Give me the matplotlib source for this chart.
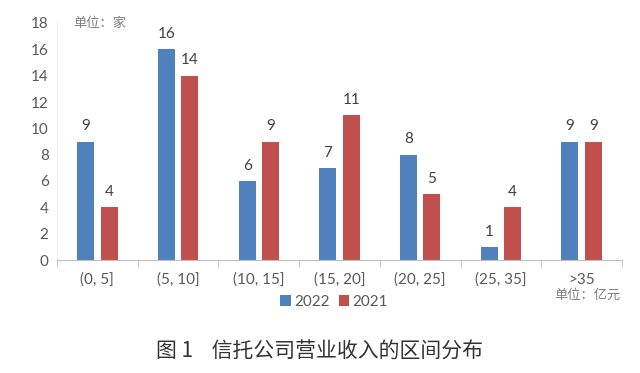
import matplotlib
matplotlib.use("Agg")
import matplotlib.pyplot as plt
import numpy as np

plt.rcParams['font.family'] = ['Lato', 'Noto Sans CJK SC', 'DejaVu Sans']

categories = ['(0, 5]', '(5, 10]', '(10, 15]', '(15, 20]', '(20, 25]', '(25, 35]', '>35']
v2022 = [9, 16, 6, 7, 8, 1, 9]
v2021 = [4, 14, 9, 11, 5, 4, 9]

blue = '#4F81BD'
red = '#C0504D'
txt = '#595959'

fig = plt.figure(figsize=(6.4, 3.73), dpi=100)
ax = fig.add_axes([57/640, 1 - 260/373, (622 - 57)/640, (260 - 23)/373])

x = np.arange(len(categories))
w = 0.21
off = 0.145
b1 = ax.bar(x - off, v2022, w, color=blue, label='2022')
b2 = ax.bar(x + off, v2021, w, color=red, label='2021')

for bars in (b1, b2):
    for r in bars:
        ax.annotate(str(int(r.get_height())), (r.get_x() + r.get_width()/2, r.get_height()),
                    xytext=(0, 11), textcoords='offset points', ha='center', va='center',
                    fontsize=11, color='#404040')

ax.set_xlim(-0.5, len(categories) - 0.5)
ax.set_ylim(0, 18)
ax.set_yticks(range(0, 19, 2))
ax.tick_params(axis='y', length=0, labelsize=11, labelcolor=txt, pad=6)
ax.set_xticks(x)
ax.set_xticklabels(categories)
ax.tick_params(axis='x', length=0, labelsize=11, labelcolor=txt, pad=9)
ax.set_xticks(np.arange(-0.5, len(categories), 1), minor=True)
ax.tick_params(axis='x', which='minor', length=5, color='#BFBFBF', direction='out')

for s in ['top', 'right']:
    ax.spines[s].set_visible(False)
ax.spines['left'].set_color('#EEEEEE')
ax.spines['bottom'].set_color('#BFBFBF')

ax.text(0.028, 1.0, '单位：家', transform=ax.transAxes, fontsize=9.5, color='#7F7F7F', va='center', ha='left')
fig.text(621/640, 1 - 294/373, '单位：亿元', fontsize=9.5, color='#7F7F7F', ha='right', va='center')

leg = fig.legend(handles=[b1, b2], labels=['2022', '2021'], loc='center', bbox_to_anchor=(334/640, 1 - 302/373),
                 ncol=2, frameon=False, fontsize=11, handlelength=0.7, handleheight=0.7,
                 handletextpad=0.2, columnspacing=0.6, labelcolor=txt)

fig.text(320/640, 1 - 352/373, '图 1    信托公司营业收入的区间分布', fontsize=15, color='#333333',
         ha='center', va='center', family=['Noto Sans CJK SC', 'DejaVu Sans'])

fig.savefig('out.png', dpi=100)
